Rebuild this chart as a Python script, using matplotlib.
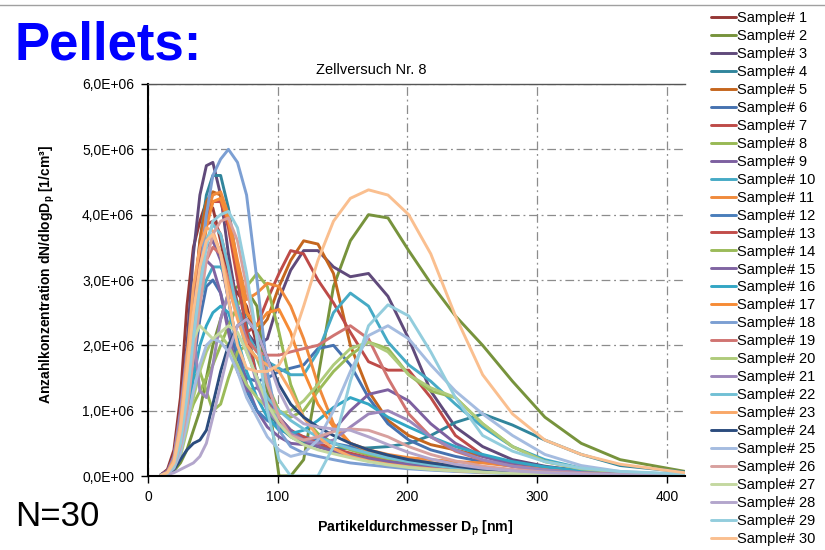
import numpy as np
import matplotlib
matplotlib.use("Agg")
import matplotlib.pyplot as plt
from matplotlib.ticker import FuncFormatter, MultipleLocator
from matplotlib.lines import Line2D

plt.rcParams['font.family'] = ['Liberation Sans', 'DejaVu Sans']
plt.rcParams['mathtext.fontset'] = 'custom'
plt.rcParams['mathtext.rm'] = 'Liberation Sans'
plt.rcParams['mathtext.bf'] = 'Liberation Sans:bold'

# SMPS size bins [nm]
diam = [10, 15, 20, 25, 30, 35, 40, 45, 50, 56, 62, 69, 76, 84, 92, 101,
        110, 120, 131, 143, 156, 170, 185, 201, 218, 237, 258, 281, 306, 334, 364, 414]

# dN/dlogDp per sample [1e6 / cm3]
s1 = [0.02, 0.1, 0.4, 1.2, 2.6, 3.5, 3.9, 4.2, 4.1, 3.6, 3.0, 2.8, 2.6, 2.0, 1.3, 0.9,
      0.7, 0.55, 0.45, 0.38, 0.3, 0.24, 0.18, 0.14, 0.1, 0.08, 0.06, 0.05, 0.04, 0.03, 0.02, 0.01]
s2 = [0.01, 0.03, 0.08, 0.2, 0.4, 0.7, 1.0, 1.5, 2.0, 2.4, 2.8, 2.9, 2.85, 2.6, 1.3, 0.0,
      0.0, 0.25, 1.5, 2.9, 3.6, 4.0, 3.95, 3.45, 2.95, 2.45, 2.0, 1.45, 0.9, 0.5, 0.25, 0.07]
s3 = [0.02, 0.08, 0.3, 0.9, 2.0, 3.4, 4.3, 4.75, 4.8, 4.3, 3.4, 2.6, 2.2, 2.0, 2.1, 2.7,
      3.15, 3.45, 3.45, 3.2, 3.05, 3.1, 2.75, 2.1, 1.3, 0.75, 0.45, 0.25, 0.15, 0.08, 0.05, 0.02]
s4 = [0.02, 0.06, 0.2, 0.6, 1.4, 2.5, 3.6, 4.3, 4.6, 4.6, 4.1, 3.2, 2.3, 1.5, 1.0, 0.75,
      0.6, 0.5, 0.45, 0.42, 0.42, 0.43, 0.45, 0.5, 0.62, 0.82, 0.95, 0.78, 0.55, 0.33, 0.16, 0.06]
s5 = [0.01, 0.05, 0.2, 0.6, 1.5, 2.6, 3.6, 4.2, 4.35, 4.3, 3.9, 3.2, 2.5, 2.2, 2.4, 2.9,
      3.3, 3.6, 3.55, 3.1, 2.0, 1.3, 0.85, 0.62, 0.48, 0.4, 0.3, 0.2, 0.12, 0.07, 0.04, 0.02]
s6 = [0.02, 0.06, 0.2, 0.5, 1.0, 1.7, 2.4, 2.9, 3.0, 2.8, 2.3, 1.8, 1.5, 1.45, 1.5, 1.6,
      1.65, 1.7, 1.95, 2.0, 1.7, 1.2, 0.8, 0.55, 0.4, 0.3, 0.22, 0.15, 0.1, 0.06, 0.04, 0.02]
s7 = [0.02, 0.08, 0.3, 0.9, 1.8, 2.8, 3.5, 3.85, 3.9, 3.7, 3.2, 2.6, 2.2, 2.3, 2.7, 3.1,
      3.45, 3.4, 3.0, 2.65, 2.2, 1.75, 1.62, 1.62, 1.2, 0.62, 0.32, 0.15, 0.08, 0.05, 0.03, 0.01]
s8 = [0.01, 0.04, 0.15, 0.4, 0.8, 1.1, 1.3, 1.5, 1.7, 2.0, 2.3, 2.6, 2.9, 3.1, 2.9, 2.2,
      1.4, 0.9, 0.65, 0.5, 0.4, 0.32, 0.25, 0.2, 0.15, 0.11, 0.08, 0.06, 0.04, 0.03, 0.02, 0.01]
s9 = [0.02, 0.07, 0.25, 0.8, 1.7, 2.6, 3.2, 3.5, 3.6, 3.3, 2.7, 2.0, 1.4, 1.0, 0.75, 0.6,
      0.5, 0.48, 0.5, 0.7, 1.0, 1.25, 1.32, 1.15, 0.8, 0.5, 0.3, 0.18, 0.1, 0.06, 0.03, 0.01]
s10 = [0.01, 0.05, 0.2, 0.6, 1.3, 2.1, 2.7, 3.0, 3.2, 3.2, 3.0, 2.6, 2.2, 1.9, 1.75, 1.65,
       1.55, 1.55, 1.9, 2.5, 2.8, 2.6, 2.05, 1.7, 1.45, 1.1, 0.75, 0.45, 0.25, 0.12, 0.06, 0.02]
s11 = [0.01, 0.05, 0.2, 0.6, 1.4, 2.4, 3.4, 4.0, 4.3, 4.35, 4.0, 3.3, 2.7, 2.8, 2.95, 2.9,
       2.6, 2.1, 1.4, 0.8, 0.5, 0.4, 0.33, 0.28, 0.25, 0.22, 0.2, 0.15, 0.1, 0.06, 0.04, 0.02]
s12 = [0.02, 0.07, 0.25, 0.8, 1.6, 2.5, 3.2, 3.6, 3.7, 3.4, 2.7, 1.9, 1.3, 1.0, 0.85, 0.75,
       0.65, 0.6, 0.55, 0.5, 0.45, 0.38, 0.3, 0.25, 0.2, 0.15, 0.11, 0.08, 0.05, 0.03, 0.02, 0.01]
s13 = [0.02, 0.06, 0.2, 0.6, 1.4, 2.4, 3.3, 3.9, 4.2, 4.2, 3.8, 3.0, 2.2, 1.5, 1.1, 0.85,
       0.7, 0.6, 0.5, 0.42, 0.35, 0.28, 0.22, 0.17, 0.13, 0.1, 0.07, 0.05, 0.04, 0.03, 0.02, 0.01]
s14 = [0.01, 0.04, 0.15, 0.45, 1.0, 1.5, 1.6, 1.3, 1.0, 1.1, 1.5, 1.9, 2.0, 1.8, 1.4, 1.0,
       0.9, 1.0, 1.3, 1.6, 1.85, 2.05, 1.95, 1.55, 1.3, 1.2, 0.8, 0.45, 0.22, 0.11, 0.06, 0.02]
s15 = [0.02, 0.08, 0.3, 0.9, 1.8, 2.6, 3.1, 3.3, 3.2, 2.8, 2.2, 1.6, 1.3, 1.35, 1.2, 0.9,
       0.7, 0.55, 0.45, 0.38, 0.32, 0.27, 0.22, 0.18, 0.14, 0.1, 0.08, 0.06, 0.04, 0.03, 0.02, 0.01]
s16 = [0.01, 0.04, 0.15, 0.4, 0.9, 1.5, 2.0, 2.3, 2.5, 2.6, 2.5, 2.1, 1.6, 1.2, 0.9, 0.7,
       0.65, 0.7, 0.85, 1.05, 1.2, 1.1, 0.9, 0.75, 0.6, 0.45, 0.33, 0.22, 0.14, 0.08, 0.05, 0.02]
s17 = [0.01, 0.05, 0.2, 0.6, 1.3, 2.2, 3.1, 3.8, 4.2, 4.25, 3.9, 3.2, 2.5, 2.3, 2.5, 2.55,
       2.2, 1.6, 1.1, 0.75, 0.5, 0.38, 0.3, 0.25, 0.2, 0.16, 0.12, 0.09, 0.06, 0.04, 0.03, 0.01]
s18 = [0.01, 0.04, 0.15, 0.45, 1.0, 1.9, 3.0, 4.0, 4.6, 4.85, 5.0, 4.8, 4.3, 3.0, 1.6, 0.7,
       0.45, 0.35, 0.3, 0.25, 0.2, 0.17, 0.14, 0.11, 0.09, 0.07, 0.05, 0.04, 0.03, 0.02, 0.01, 0.01]
s19 = [0.01, 0.05, 0.2, 0.6, 1.3, 2.2, 2.9, 3.3, 3.5, 3.4, 3.0, 2.5, 2.1, 1.9, 1.85, 1.85,
       1.9, 1.95, 2.0, 2.15, 2.3, 2.1, 1.5, 0.95, 0.6, 0.38, 0.24, 0.15, 0.09, 0.05, 0.03, 0.01]
s20 = [0.01, 0.03, 0.1, 0.3, 0.7, 1.2, 1.6, 1.9, 2.1, 2.15, 2.0, 1.7, 1.4, 1.2, 1.05, 0.95,
       1.0, 1.15, 1.4, 1.7, 1.95, 2.05, 1.9, 1.55, 1.35, 1.2, 0.8, 0.45, 0.22, 0.11, 0.06, 0.02]
s21 = [0.01, 0.05, 0.3, 1.0, 1.9, 2.2, 1.3, 1.2, 1.7, 2.4, 2.8, 2.6, 2.0, 1.4, 1.0, 0.8,
       0.65, 0.55, 0.5, 0.55, 0.75, 0.95, 1.0, 0.85, 0.6, 0.4, 0.25, 0.15, 0.09, 0.05, 0.03, 0.01]
s22 = [0.01, 0.05, 0.2, 0.6, 1.4, 2.3, 3.1, 3.6, 3.85, 3.7, 3.2, 2.5, 1.9, 1.5, 1.2, 1.0,
       0.85, 0.72, 0.6, 0.5, 0.42, 0.35, 0.28, 0.22, 0.17, 0.12, 0.09, 0.06, 0.04, 0.03, 0.02, 0.01]
s23 = [0.01, 0.06, 0.25, 0.8, 1.8, 2.9, 3.5, 3.8, 3.75, 3.4, 2.9, 2.4, 2.0, 1.8, 1.7, 1.6,
       1.3, 0.9, 0.6, 0.42, 0.3, 0.23, 0.18, 0.14, 0.11, 0.08, 0.06, 0.05, 0.04, 0.03, 0.02, 0.01]
s24 = [0.01, 0.03, 0.1, 0.25, 0.4, 0.5, 0.55, 0.7, 1.1, 1.6, 2.0, 2.3, 2.4, 2.2, 1.8, 1.4,
       1.1, 0.9, 0.75, 0.62, 0.5, 0.4, 0.32, 0.25, 0.2, 0.15, 0.1, 0.07, 0.05, 0.03, 0.02, 0.01]
s25 = [0.01, 0.03, 0.12, 0.35, 0.8, 1.3, 1.7, 2.0, 2.1, 2.05, 1.9, 1.6, 1.2, 0.9, 0.6, 0.4,
       0.3, 0.35, 0.55, 1.0, 1.6, 2.15, 2.3, 2.1, 1.7, 1.3, 0.95, 0.62, 0.33, 0.16, 0.07, 0.02]
s26 = [0.01, 0.04, 0.15, 0.45, 1.0, 1.8, 2.6, 3.3, 3.7, 3.9, 3.95, 3.6, 2.9, 2.1, 1.4, 0.9,
       0.62, 0.55, 0.6, 0.68, 0.72, 0.7, 0.6, 0.45, 0.33, 0.23, 0.15, 0.1, 0.06, 0.04, 0.02, 0.01]
s27 = [0.01, 0.04, 0.2, 0.7, 1.5, 2.1, 2.3, 2.2, 2.1, 2.2, 2.3, 2.2, 1.9, 1.5, 1.1, 0.8,
       0.6, 0.48, 0.4, 0.34, 0.28, 0.22, 0.17, 0.13, 0.1, 0.08, 0.06, 0.04, 0.03, 0.02, 0.01, 0.01]
s28 = [0.01, 0.02, 0.05, 0.1, 0.15, 0.2, 0.3, 0.5, 0.9, 1.4, 1.9, 2.3, 2.4, 2.2, 1.8, 1.3,
       0.95, 0.8, 0.75, 0.72, 0.7, 0.6, 0.48, 0.36, 0.26, 0.18, 0.12, 0.08, 0.05, 0.03, 0.02, 0.01]
s29 = [0.01, 0.04, 0.15, 0.5, 1.2, 2.1, 2.9, 3.5, 3.9, 4.0, 4.05, 3.8, 3.1, 2.1, 1.0, 0.25,
       0.0, 0.0, 0.0, 0.45, 1.45, 2.3, 2.62, 2.45, 1.9, 1.2, 0.62, 0.38, 0.22, 0.12, 0.07, 0.03]
s30 = [0.01, 0.05, 0.2, 0.7, 1.6, 2.5, 3.2, 3.6, 3.7, 3.4, 2.7, 2.0, 1.65, 1.6, 1.6, 1.7,
       2.0, 2.6, 3.3, 3.9, 4.25, 4.38, 4.3, 4.0, 3.4, 2.45, 1.55, 0.95, 0.55, 0.33, 0.18, 0.05]

samples = [s1, s2, s3, s4, s5, s6, s7, s8, s9, s10, s11, s12, s13, s14, s15,
           s16, s17, s18, s19, s20, s21, s22, s23, s24, s25, s26, s27, s28, s29, s30]
labels = ["Sample# %d" % (i + 1) for i in range(len(samples))]

colors = ['#953735', '#77933C', '#604A7B', '#31859C', '#C5661E', '#4672B0',
          '#BE4B48', '#98B954', '#7D60A0', '#46AAC5', '#F08A3C', '#4A7EBB',
          '#C24D4A', '#9BBB59', '#8064A2', '#33A6C4', '#F68B35', '#7C9FD3',
          '#D07471', '#AFCB7B', '#9C86BA', '#71C0D5', '#F9A868', '#2B4C7E',
          '#A5BCE0', '#D8A09E', '#C4D8A0', '#B3A6CC', '#93CDDD', '#FABF8F']


def sci_comma(v, pos):
    # Excel style "6,0E+06"
    return ("%.1E" % v).replace('.', ',')


fig = plt.figure(figsize=(8.25, 5.5), dpi=100)
ax = fig.add_axes([148 / 825, 74 / 550, 537 / 825, 392 / 550])

for y, lab, c in zip(samples, labels, colors):
    ax.plot(diam, np.array(y) * 1e6, color=c, lw=2.1, label=lab,
            solid_joinstyle='round', solid_capstyle='round')

ax.set_xlim(0, 414)
ax.set_ylim(0, 6e6)
ax.xaxis.set_major_locator(MultipleLocator(100))
ax.yaxis.set_major_locator(MultipleLocator(1e6))
ax.yaxis.set_major_formatter(FuncFormatter(sci_comma))
ax.grid(True, color='#8c8c8c', lw=0.9, linestyle=(0, (7, 3, 1.5, 3)))
ax.set_axisbelow(True)

for side in ['left', 'bottom']:
    ax.spines[side].set_linewidth(1.5)
    ax.spines[side].set_color('black')
ax.spines['right'].set_visible(False)
ax.spines['top'].set_color('#555555')
ax.spines['top'].set_linewidth(1.0)
ax.tick_params(direction='out', length=5, width=1, labelsize=10, pad=5)

ax.set_xlabel('Partikeldurchmesser D$_\\mathbf{p}$ [nm]', fontsize=10.2,
              fontweight='bold')
ax.xaxis.set_label_coords(0.497, -0.11)
ax.set_ylabel('Anzahlkonzentration dN/dlogD$_\\mathbf{p}$ [1/cm³]', fontsize=10,
              fontweight='bold')
ax.yaxis.set_label_coords(-0.17, 0.513)

fig.text(371 / 825, 1 - 70 / 550, 'Zellversuch Nr. 8', ha='center', va='center',
         fontsize=10.5)
fig.text(15 / 825, 1 - 46 / 550, 'Pellets:', color='#0000FF', fontsize=38,
         fontweight='bold', ha='left', va='center')
fig.text(15 / 825, 1 - 517 / 550, 'N=30', fontsize=25, ha='left', va='center')

# thin rule across the top of the slide
fig.add_artist(Line2D([0, 1], [1 - 5 / 550, 1 - 5 / 550], color='#a0a0a0',
                      lw=1.0, transform=fig.transFigure))

ax.legend(loc='upper left', bbox_to_anchor=(711 / 825, 1 - 11 / 550),
          bbox_transform=fig.transFigure, frameon=False, fontsize=10.5,
          borderpad=0, borderaxespad=0, handlelength=1.7, handletextpad=0.08,
          labelspacing=0.272)

fig.savefig('out.png', dpi=100)
